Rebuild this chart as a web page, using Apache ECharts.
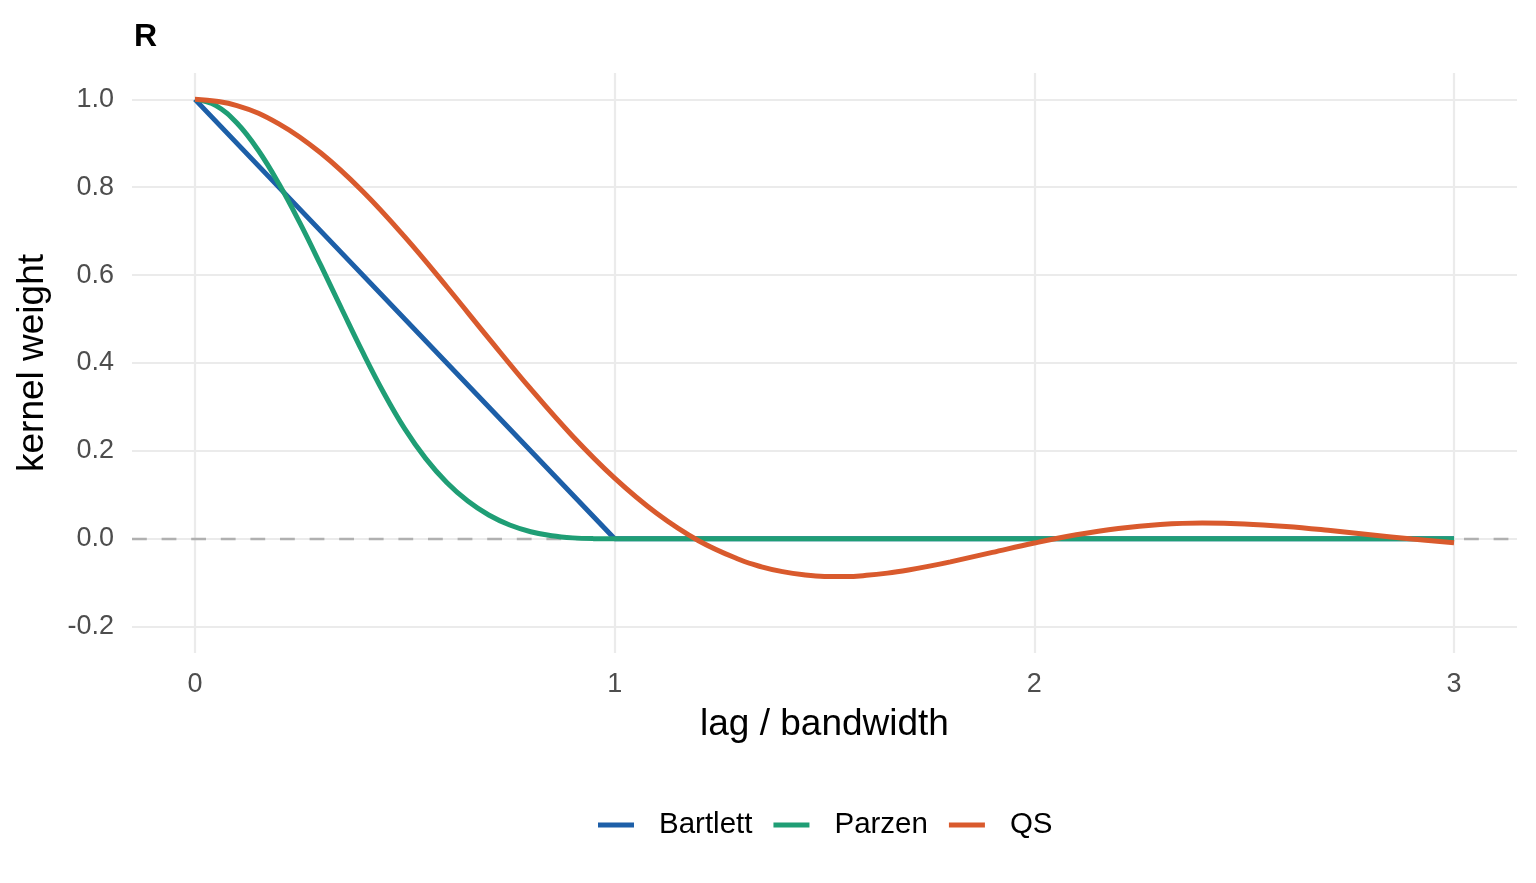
<!DOCTYPE html>
<html>
<head>
<meta charset="utf-8">
<script src="https://cdn.jsdelivr.net/npm/echarts@6/dist/echarts.min.js"></script>
<style>
html,body{margin:0;padding:0;background:#ffffff;}
#chart{width:1536px;height:883px;}
</style>
</head>
<body>
<div id="chart"></div>
<script>
// ---- data ----
const seriesNames = ['Bartlett', 'Parzen', 'QS'];

const bartlettLag = [0, 1, 3];
const bartlettWeight = [1, 0, 0];

const parzenLag = [0, 0.05, 0.1, 0.15, 0.2, 0.25, 0.3, 0.35, 0.4, 0.45, 0.5,
                   0.55, 0.6, 0.65, 0.7, 0.75, 0.8, 0.85, 0.9, 0.95, 1, 3];
const parzenWeight = [1, 0.9858, 0.946, 0.8853, 0.808, 0.7188, 0.622, 0.5223, 0.424, 0.3318, 0.25,
                      0.1823, 0.128, 0.0858, 0.054, 0.0313, 0.016, 0.0068, 0.002, 0.0003, 0, 0];

const qsLag = [0, 0.1, 0.2, 0.3, 0.4, 0.5, 0.6, 0.7, 0.8, 0.9, 1.0,
               1.1, 1.2, 1.3, 1.35, 1.4, 1.45, 1.5, 1.55, 1.6, 1.65, 1.7, 1.75, 1.8, 1.9, 2.0,
               2.1, 2.2, 2.3, 2.4, 2.5, 2.6, 2.7, 2.8, 2.9, 3.0];
const qsWeight = [1, 0.9859, 0.9443, 0.8778, 0.7903, 0.6869, 0.5735, 0.4561, 0.3409, 0.2333, 0.1379,
                  0.0580, -0.0044, -0.0484, -0.0638, -0.0749, -0.0821, -0.0857, -0.0859, -0.0833, -0.0782, -0.0710, -0.0623, -0.0525, -0.0310, -0.0097,
                  0.0090, 0.0233, 0.0322, 0.0356, 0.0338, 0.0279, 0.0192, 0.0092, -0.0007, -0.0092];

const xTicks = [0, 1, 2, 3];
const yTicks = [-0.2, 0, 0.2, 0.4, 0.6, 0.8, 1.0];
const referenceLevel = 0;

// ---- styling ----
const colors = ['#1d5fa8', '#1f9e75', '#d95a2d'];
const FONT = 'Liberation Sans';

function zip(xs, ys) { return xs.map((x, i) => [x, ys[i]]); }

const gridMarks = xTicks.map(v => ({ xAxis: v })).concat(yTicks.map(v => ({ yAxis: v })));

const chart = echarts.init(document.getElementById('chart'));
chart.setOption({
  animation: false,
  backgroundColor: '#ffffff',
  textStyle: { fontFamily: FONT },
  title: {
    text: 'R',
    left: 134,
    top: 21,
    padding: 0,
    textStyle: { fontFamily: FONT, fontSize: 32, fontWeight: 'bold', color: '#000000' }
  },
  grid: { left: 132, right: 19, top: 73, bottom: 230, containLabel: false },
  xAxis: {
    type: 'value',
    min: -0.15,
    max: 3.15,
    name: 'lag / bandwidth',
    nameLocation: 'middle',
    nameGap: 53,
    nameTextStyle: { fontFamily: FONT, fontSize: 37, color: '#000000' },
    axisLine: { show: false },
    axisTick: { show: false },
    splitLine: { show: false },
    axisLabel: {
      customValues: xTicks,
      formatter: v => String(Math.round(v)),
      margin: 18,
      fontSize: 27,
      fontFamily: FONT,
      color: '#4d4d4d'
    }
  },
  yAxis: {
    type: 'value',
    min: -0.26,
    max: 1.06,
    name: 'kernel weight',
    nameLocation: 'middle',
    nameRotate: 90,
    nameGap: 81,
    nameTextStyle: { fontFamily: FONT, fontSize: 37, color: '#000000' },
    axisLine: { show: false },
    axisTick: { show: false },
    splitLine: { show: false },
    axisLabel: {
      customValues: yTicks,
      formatter: v => v.toFixed(1),
      margin: 18,
      fontSize: 27,
      fontFamily: FONT,
      color: '#4d4d4d'
    }
  },
  legend: {
    data: seriesNames,
    left: 598,
    top: 810,
    padding: 0,
    orient: 'horizontal',
    icon: 'rect',
    itemWidth: 36,
    itemHeight: 5,
    itemGap: 21,
    textStyle: { fontFamily: FONT, fontSize: 29.5, color: '#000000', padding: [0, 0, 0, 20] }
  },
  series: [
    {
      name: '_grid',
      type: 'line',
      data: [],
      silent: true,
      z: 1,
      markLine: {
        silent: true,
        z: 1,
        symbol: ['none', 'none'],
        label: { show: false },
        emphasis: { disabled: true },
        lineStyle: { color: '#ebebeb', width: 2.2, type: 'solid' },
        data: gridMarks
      }
    },
    {
      name: '_zero',
      type: 'line',
      data: [],
      silent: true,
      z: 2,
      markLine: {
        silent: true,
        z: 2,
        symbol: ['none', 'none'],
        label: { show: false },
        emphasis: { disabled: true },
        lineStyle: { color: '#b0b0b0', width: 2.4, type: [14.8, 14.8] },
        data: [{ yAxis: referenceLevel }]
      }
    },
    {
      name: 'Bartlett',
      type: 'line',
      data: zip(bartlettLag, bartlettWeight),
      showSymbol: false,
      symbol: 'none',
      z: 3,
      color: colors[0],
      lineStyle: { color: colors[0], width: 5 }
    },
    {
      name: 'Parzen',
      type: 'line',
      data: zip(parzenLag, parzenWeight),
      smooth: 0.4,
      showSymbol: false,
      symbol: 'none',
      z: 4,
      color: colors[1],
      lineStyle: { color: colors[1], width: 5 }
    },
    {
      name: 'QS',
      type: 'line',
      data: zip(qsLag, qsWeight),
      smooth: 0.4,
      showSymbol: false,
      symbol: 'none',
      z: 5,
      color: colors[2],
      lineStyle: { color: colors[2], width: 5 }
    }
  ]
});
</script>
</body>
</html>
